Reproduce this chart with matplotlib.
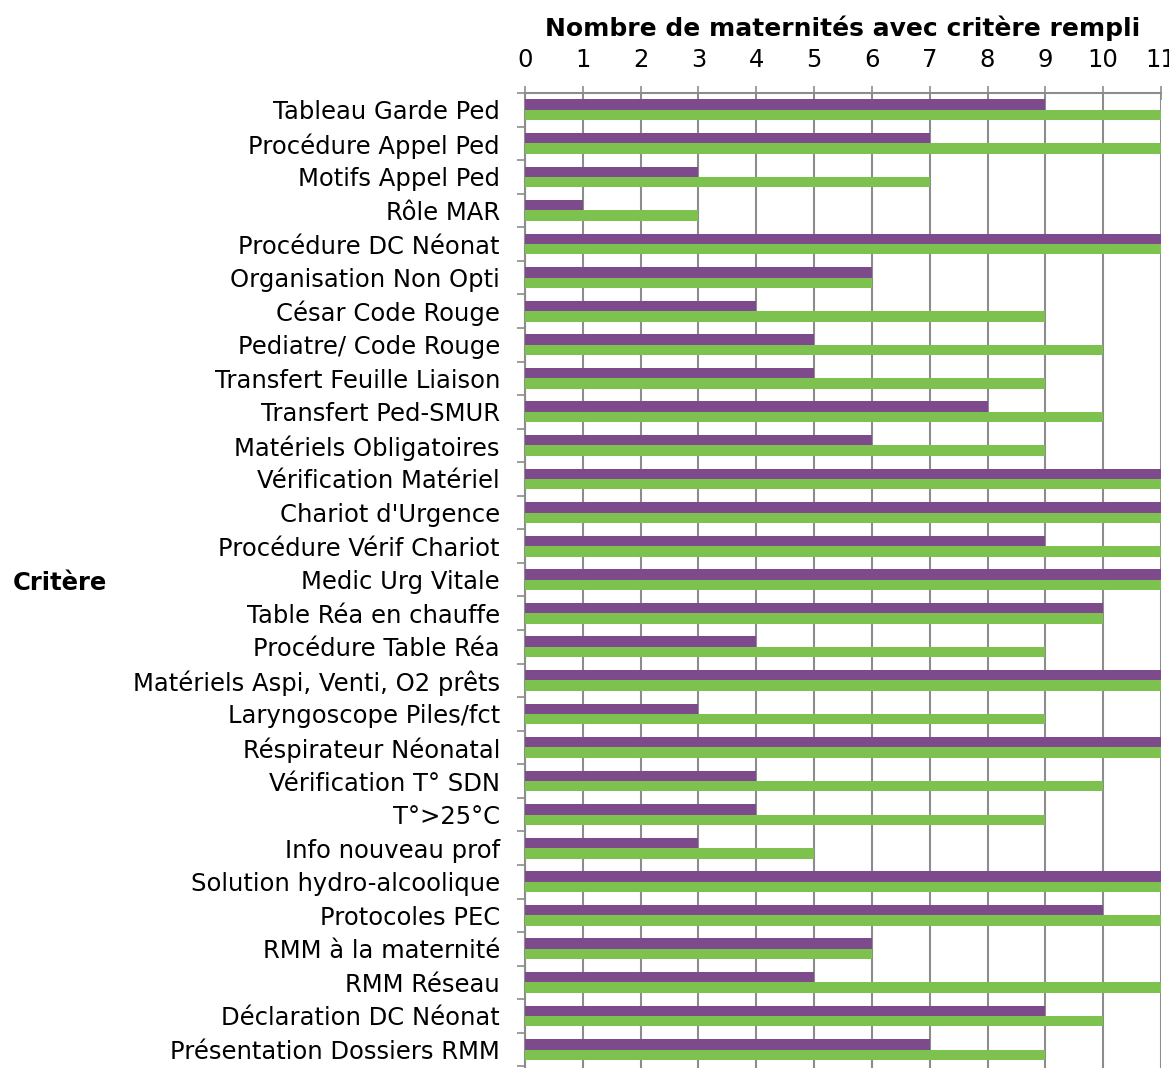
import matplotlib
matplotlib.use("Agg")
import matplotlib.pyplot as plt
import numpy as np

# criteria (top to bottom) and number of maternity units per series
criteres = [
    "Tableau Garde Ped", "Procédure Appel Ped", "Motifs Appel Ped", "Rôle MAR",
    "Procédure DC Néonat", "Organisation Non Opti", "César Code Rouge",
    "Pediatre/ Code Rouge", "Transfert Feuille Liaison", "Transfert Ped-SMUR",
    "Matériels Obligatoires", "Vérification Matériel", "Chariot d'Urgence",
    "Procédure Vérif Chariot", "Medic Urg Vitale", "Table Réa en chauffe",
    "Procédure Table Réa", "Matériels Aspi, Venti, O2 prêts",
    "Laryngoscope Piles/fct", "Réspirateur Néonatal", "Vérification T° SDN",
    "T°>25°C", "Info nouveau prof", "Solution hydro-alcoolique",
    "Protocoles PEC", "RMM à la maternité", "RMM Réseau",
    "Déclaration DC Néonat", "Présentation Dossiers RMM",
]
serie_violet = [9, 7, 3, 1, 11, 6, 4, 5, 5, 8, 6, 11, 11, 9, 11, 10, 4, 11, 3, 11, 4, 4, 3, 11, 10, 6, 5, 9, 7]
serie_vert = [11, 11, 7, 3, 11, 6, 9, 10, 9, 10, 9, 11, 11, 11, 11, 10, 9, 11, 9, 11, 10, 9, 5, 11, 11, 6, 11, 10, 9]

violet = "#7D4B8B"
vert = "#7DC24F"
gris = "#8C8C8C"

plt.rcParams['font.family'] = ['DejaVu Sans']

fig = plt.figure(figsize=(11.69, 10.68), dpi=100)
ax = fig.add_axes([525 / 1169, 0.0, (1161 - 525) / 1169, 1 - 93 / 1068])

y = np.arange(len(criteres))
h = 0.31
ax.barh(y - h / 2, serie_violet, height=h, color=violet, zorder=3)
ax.barh(y + h / 2, serie_vert, height=h, color=vert, zorder=3)

ax.set_xlim(0, 11)
ax.set_ylim(len(criteres) - 0.5 + 0.05, -0.5)

ax.xaxis.tick_top()
ax.xaxis.set_label_position('top')
ax.set_xticks(range(12))
ax.tick_params(axis='x', direction='inout', length=10, width=1.2, color=gris,
               labelsize=17.5, pad=10)
ax.grid(axis='x', color=gris, linewidth=1.5, zorder=0)

ax.set_yticks(y)
ax.set_yticklabels(criteres, fontsize=17.5)
ax.tick_params(axis='y', length=0, pad=18)
ax.set_yticks(np.arange(-0.5, len(criteres)), minor=True)
ax.tick_params(axis='y', which='minor', length=6, width=1.2, color=gris)

for s in ['bottom', 'right']:
    ax.spines[s].set_visible(False)
for s in ['top', 'left']:
    ax.spines[s].set_color(gris)
    ax.spines[s].set_linewidth(1.5)

ax.set_xlabel("Nombre de maternités avec critère rempli", fontsize=18,
              fontweight='bold', labelpad=9)
fig.text(13 / 1169, 1 - 583 / 1068, "Critère", fontsize=17.5, fontweight='bold',
         va='center', ha='left')

fig.savefig("out.png", dpi=100)
